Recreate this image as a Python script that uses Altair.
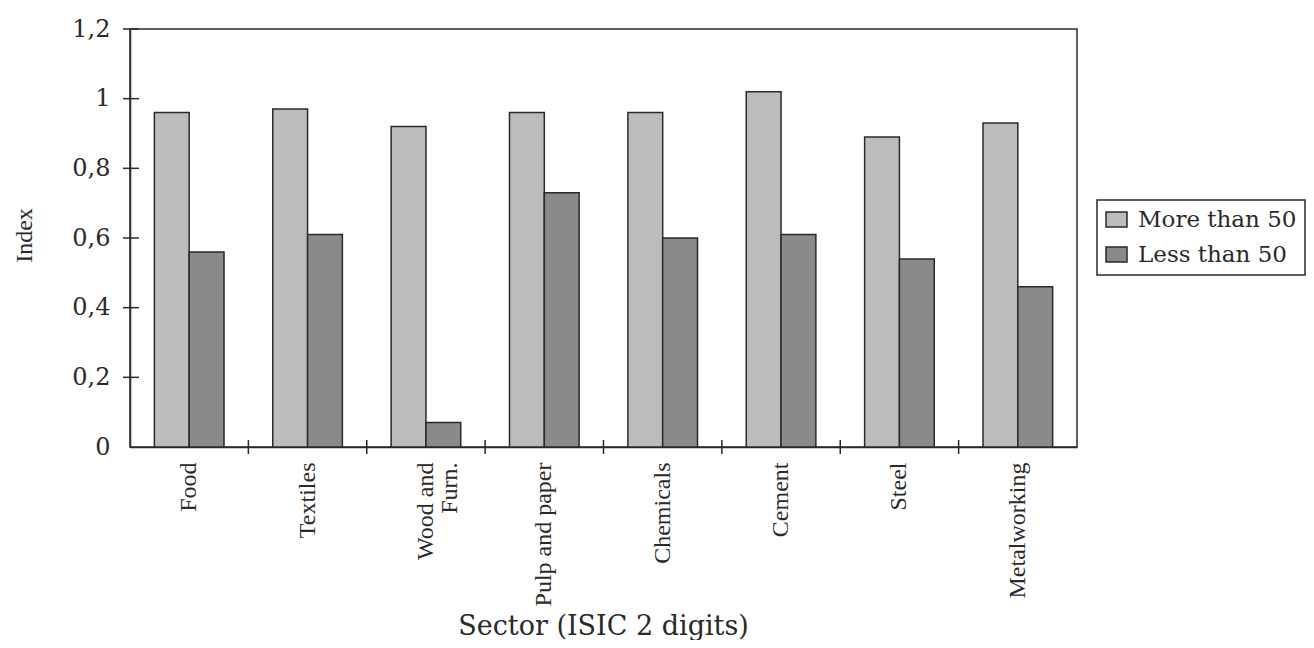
import altair as alt
import pandas as pd

sectors = ["Food", "Textiles", "Wood and Furn.", "Pulp and paper",
           "Chemicals", "Cement", "Steel", "Metalworking"]
groups = ["More than 50", "Less than 50"]
more_than_50 = [0.96, 0.97, 0.92, 0.96, 0.96, 1.02, 0.89, 0.93]
less_than_50 = [0.56, 0.61, 0.07, 0.73, 0.60, 0.61, 0.54, 0.46]
y_ticks = [0, 0.2, 0.4, 0.6, 0.8, 1.0, 1.2]

rows = []
for s, m, l in zip(sectors, more_than_50, less_than_50):
    rows.append({"sector": s, "group": groups[0], "value": m})
    rows.append({"sector": s, "group": groups[1], "value": l})
df = pd.DataFrame(rows)
sep_df = pd.DataFrame({"sector": sectors[1:]})
ytick_df = pd.DataFrame({"value": y_ticks[1:]})

SERIF = "Liberation Serif"
WIDE = "DejaVu Serif"
INK = "#2a2a2a"
W, H = 947, 418

xscale = alt.Scale(domain=sectors, paddingInner=0, paddingOuter=0)
yscale = alt.Scale(domain=[0, 1.2], nice=False)

xaxis = alt.Axis(title="Sector (ISIC 2 digits)", labelAngle=270,
                 labelAlign="right", labelBaseline="middle",
                 ticks=False, tickSize=0, labelPadding=15,
                 labelFont=SERIF, labelFontSize=24, labelColor=INK,
                 labelExpr="datum.label == 'Wood and Furn.' ? ['Wood and', 'Furn.'] : datum.label",
                 labelLineHeight=24,
                 titleFont=WIDE, titleFontSize=27, titleFontWeight="normal",
                 titleColor=INK, titleX=473, titleY=166,
                 domainColor=INK, domainWidth=1.5)
yaxis = alt.Axis(values=y_ticks, title="Index", ticks=False, tickSize=0,
                 labelPadding=20, grid=False,
                 labelExpr="replace(format(datum.value, '~g'), '.', ',')",
                 labelFont=WIDE, labelFontSize=24, labelColor=INK,
                 titleFont=SERIF, titleFontSize=24, titleFontWeight="normal",
                 titleColor=INK, titleAngle=270, titleBaseline="bottom",
                 titleX=-94, titleY=206,
                 domainColor=INK, domainWidth=1.5)

bars = alt.Chart(df).mark_bar(stroke=INK, strokeWidth=1.5).encode(
    x=alt.X("sector:N", sort=sectors, scale=xscale, axis=xaxis),
    xOffset=alt.XOffset("group:N", sort=groups,
                        scale=alt.Scale(domain=groups, paddingOuter=0.7, paddingInner=0)),
    y=alt.Y("value:Q", scale=yscale, axis=yaxis),
    color=alt.Color("group:N", sort=groups,
                    scale=alt.Scale(domain=groups, range=["#bcbcbc", "#8a8a8a"]),
                    legend=alt.Legend(title=None, orient="none", legendX=967, legendY=171,
                                      labelFont=WIDE, labelFontSize=23, labelColor=INK,
                                      labelOffset=10, padding=8, rowPadding=11,
                                      labelLimit=0,
                                      symbolType="M-1.4,-1H1.4V1H-1.4Z", symbolSize=225,
                                      symbolStrokeColor=INK, symbolStrokeWidth=1.5,
                                      strokeColor=INK)),
)

xsep = alt.Chart(sep_df).mark_rule(color=INK, strokeWidth=1.5).encode(
    x=alt.X("sector:N", sort=sectors, scale=xscale, bandPosition=0, axis=xaxis),
    y=alt.value(H - 7),
    y2=alt.value(H + 7),
)

yticks = alt.Chart(ytick_df).mark_rule(color=INK, strokeWidth=1.5).encode(
    y=alt.Y("value:Q", scale=yscale, axis=yaxis),
    x=alt.value(-7),
    x2=alt.value(9),
)

chart = alt.layer(bars, xsep, yticks).properties(
    width=W, height=H,
    autosize=alt.AutoSizeParams(type="none"),
    padding={"left": 122, "top": 21, "right": 229, "bottom": 193},
    background="white",
).configure_view(stroke=INK, strokeWidth=1.5).configure_legend(strokeWidth=1.5)

chart.save("out.html", embed_options={"renderer": "svg", "actions": False})
